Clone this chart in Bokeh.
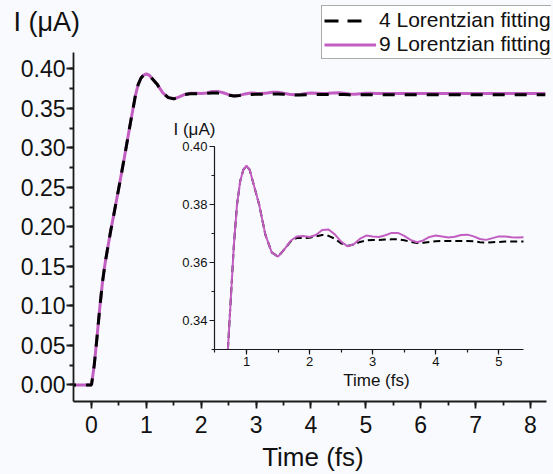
from bokeh.plotting import figure
from bokeh.layouts import column
from bokeh.models import (Range1d, SingleIntervalTicker, Legend, LegendItem, Label,
                          NumeralTickFormatter, ColumnDataSource, Title)
from bokeh.embed import file_html
from bokeh.resources import INLINE

# ---------------- data ----------------
time_fs = [-0.5, 0.0, 0.05, 0.1, 0.15, 0.2, 0.25, 0.3, 0.35, 0.4, 0.5, 0.6, 0.7, 0.8, 0.85,
           0.9, 0.95, 1.0, 1.05, 1.1, 1.2, 1.3, 1.4, 1.5, 1.6, 1.7, 1.8, 1.9, 2.0,
           2.1, 2.2, 2.3, 2.4, 2.5, 2.6, 2.7, 2.8, 2.9, 3.0, 3.1, 3.2, 3.3, 3.4,
           3.5, 3.6, 3.7, 3.8, 3.9, 4.0, 4.1, 4.2, 4.3, 4.4, 4.5, 4.6, 4.7, 4.8,
           4.9, 5.0, 5.1, 5.2, 5.3, 5.4, 5.6, 6.0, 6.5, 7.0, 7.5, 8.0, 8.27]

i_9_lorentzian = [0.0, 0.0, 0.025, 0.06, 0.097, 0.13, 0.155, 0.175, 0.195, 0.213, 0.25, 0.288,
                  0.328, 0.366, 0.38, 0.388, 0.392, 0.3934, 0.392, 0.388, 0.380, 0.3695,
                  0.3635, 0.362, 0.3645, 0.3675, 0.369, 0.3691, 0.3688, 0.3695, 0.3712,
                  0.3714, 0.3697, 0.3672, 0.3656, 0.3663, 0.3682, 0.3693, 0.369, 0.3688,
                  0.3694, 0.3702, 0.3702, 0.3692, 0.3678, 0.367, 0.3676, 0.3688, 0.3693,
                  0.369, 0.3686, 0.3689, 0.3695, 0.3696, 0.369, 0.3681, 0.3678, 0.3684,
                  0.369, 0.369, 0.3687, 0.3686, 0.3687, 0.3687, 0.3686, 0.3686, 0.3686,
                  0.3686, 0.3686, 0.3686]

i_4_lorentzian = [0.0, 0.0, 0.025, 0.06, 0.097, 0.13, 0.155, 0.175, 0.195, 0.213, 0.25, 0.288,
                  0.328, 0.366, 0.38, 0.388, 0.392, 0.3932, 0.392, 0.388, 0.380, 0.3695,
                  0.3635, 0.362, 0.3645, 0.3673, 0.3685, 0.3684, 0.3685, 0.369, 0.3695,
                  0.3692, 0.3682, 0.3666, 0.3657, 0.3662, 0.3671, 0.3676, 0.3678, 0.3678,
                  0.3679, 0.368, 0.368, 0.3677, 0.3671, 0.3667, 0.3668, 0.3671, 0.3673,
                  0.3674, 0.3674, 0.3674, 0.3674, 0.3674, 0.3673, 0.367, 0.3669, 0.367,
                  0.3671, 0.3672, 0.3672, 0.3672, 0.3672, 0.3672, 0.3672, 0.3672, 0.3672,
                  0.3672, 0.3672, 0.3672]

legend_labels = ["4 Lorentzian fitting", "9 Lorentzian fitting"]
y_title = "I (\u03bcA)"
x_title = "Time (fs)"

# ---------------- styles ----------------
BG = "#f9fafd"
PURPLE = "#c25ec2"
AXC = "#1a1a1a"
TXT = "#111111"
FONT = "Liberation Sans"

src = ColumnDataSource(dict(t=time_fs, i9=i_9_lorentzian, i4=i_4_lorentzian))

X_AXIS_END = 8.292        # where the drawn x axis stops
X_MAIN = (-0.328, 8.383)  # frame runs a little past the axis end
Y_MAIN = (-0.0210, 0.4206)
PX_PER_Y = 790.0          # main-plot pixels per unit of current
FRAME_TOP, FRAME_BOTTOM = 52, 401
W, H = 553, 474
LB, RB = 73, 2            # left / right borders shared by all stacked figures


def style_axes(p, tick_size, tick_out, minor_out, xstand, ystand, lw):
    for ax, st in ((p.xaxis[0], xstand), (p.yaxis[0], ystand)):
        ax.axis_line_color = AXC
        ax.axis_line_width = lw
        ax.major_tick_line_color = AXC
        ax.major_tick_line_width = lw
        ax.minor_tick_line_color = AXC
        ax.minor_tick_line_width = lw
        ax.major_tick_in = 0
        ax.major_tick_out = tick_out
        ax.minor_tick_in = 0
        ax.minor_tick_out = minor_out
        ax.major_label_text_font = FONT
        ax.major_label_text_font_size = tick_size
        ax.major_label_text_color = TXT
        ax.major_label_standoff = st
    p.xgrid.visible = False
    p.ygrid.visible = False


def bare(p):
    p.xgrid.visible = False
    p.ygrid.visible = False


# ---------------- main figure ----------------
main = figure(width=W, height=H, x_range=Range1d(*X_MAIN), y_range=Range1d(*Y_MAIN),
              output_backend="svg", toolbar_location=None,
              min_border_left=LB, min_border_right=RB,
              min_border_top=FRAME_TOP, min_border_bottom=H - FRAME_BOTTOM,
              background_fill_color=BG, border_fill_color=BG, outline_line_color=None)
main.xaxis.ticker = SingleIntervalTicker(interval=1, num_minor_ticks=2)
main.yaxis.ticker = SingleIntervalTicker(interval=0.05, num_minor_ticks=2)
main.yaxis.formatter = NumeralTickFormatter(format="0.00")
main.xaxis.bounds = (X_MAIN[0], X_AXIS_END)
style_axes(main, "23px", 7, 4, 7, 1, 1.8)

main.line("t", "i9", source=src, line_color=PURPLE, line_width=3)
main.line("t", "i4", source=src, line_color="black", line_width=3, line_dash="12 10")

# ---------------- inset figure ----------------
INSET_TOP, INSET_H = 136, 243
inset = figure(width=LB + 309 + RB, height=INSET_H, x_range=Range1d(0.493, 5.39),
               y_range=Range1d(0.33, 0.40), output_backend="svg",
               toolbar_location=None, min_border_left=LB, min_border_right=RB,
               min_border_top=10, min_border_bottom=30,
               background_fill_alpha=0, border_fill_alpha=0, outline_line_color=None)
inset.xaxis.ticker = SingleIntervalTicker(interval=1, num_minor_ticks=2)
inset.yaxis.ticker = SingleIntervalTicker(interval=0.02, num_minor_ticks=2)
inset.yaxis.formatter = NumeralTickFormatter(format="0.00")
style_axes(inset, "13px", 5, 3, 2, 2, 1.2)

inset.line("t", "i4", source=src, line_color="black", line_width=2, line_dash="7 4")
inset.line("t", "i9", source=src, line_color=PURPLE, line_width=2)
inset.margin = (INSET_TOP - H, 0, 0, 214 - LB)

# ---------------- overlay A (legend + titles), same x/y scale as main ----------------
y_top_ext = Y_MAIN[1] + FRAME_TOP / PX_PER_Y
y_bot_ext = Y_MAIN[0] - (H - FRAME_BOTTOM) / PX_PER_Y
over = figure(width=W, height=H, x_range=Range1d(*X_MAIN),
              y_range=Range1d(y_bot_ext, y_top_ext), output_backend="svg",
              toolbar_location=None, x_axis_location=None, y_axis_location=None,
              min_border_left=LB, min_border_right=RB, min_border_top=0,
              min_border_bottom=0, background_fill_alpha=0, border_fill_alpha=0,
              outline_line_color=None)
bare(over)
l9 = over.line("t", "i9", source=src, line_color=PURPLE, line_width=3, visible=False)
l4 = over.line("t", "i4", source=src, line_color="black", line_width=3,
               line_dash="14 9 14 15", visible=False)
legend = Legend(items=[LegendItem(label=legend_labels[0], renderers=[l4]),
                       LegendItem(label=legend_labels[1], renderers=[l9])],
                location=(321 - LB, H - 59), margin=0, padding=2, spacing=0,
                glyph_width=52, glyph_height=23, label_height=23, label_standoff=3,
                label_text_font=FONT, label_text_font_size="21px",
                label_text_color=TXT, inactive_fill_alpha=0,
                border_line_color="#555555", border_line_width=1,
                background_fill_color="white", background_fill_alpha=1.0)
over.add_layout(legend)

# main x title
over.add_layout(Label(x=4.036, y=-0.0910, text=x_title, text_font=FONT,
                      text_font_size="26px", text_color=TXT,
                      text_align="center", text_baseline="alphabetic"))
# inset titles
over.add_layout(Label(x=1.494, y=0.3230, text=y_title, text_font=FONT,
                      text_font_size="17px", text_color=TXT,
                      text_baseline="alphabetic"))
over.add_layout(Label(x=5.192, y=0.0053, text=x_title, text_font=FONT,
                      text_font_size="17px", text_color=TXT,
                      text_align="center", text_baseline="alphabetic"))
over.margin = (-(INSET_TOP + INSET_H), 0, 0, 0)

# ---------------- overlay B: main y title ----------------
TOP_H = 60
ttl = figure(width=W, height=TOP_H, x_range=Range1d(*X_MAIN), y_range=Range1d(0, 1),
             output_backend="svg", toolbar_location=None,
             x_axis_location=None, y_axis_location=None,
             min_border_left=LB, min_border_right=RB, min_border_top=0,
             min_border_bottom=0, background_fill_alpha=0, border_fill_alpha=0,
             outline_line_color=None)
bare(ttl)
ttl.title = Title(text=y_title, align="left", offset=-60, standoff=13,
                  vertical_align="top", text_font=FONT, text_font_size="27px",
                  text_font_style="normal", text_color=TXT)
ttl.margin = (-H, 0, H - TOP_H, 0)

layout = column(main, inset, over, ttl, spacing=0)
layout.styles = {"background-color": BG}

open("out.html", "w").write(file_html(layout, INLINE))
